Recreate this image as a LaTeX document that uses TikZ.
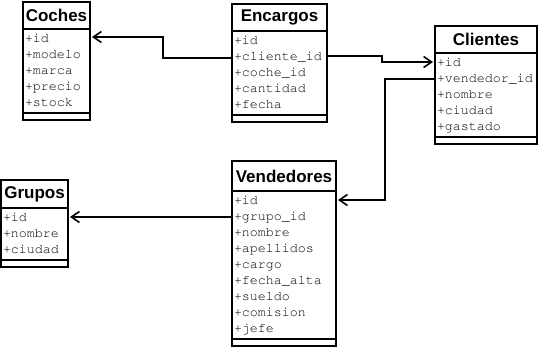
\documentclass[tikz,border=0pt]{standalone}
\usepackage{fontspec}
\setsansfont{Liberation Sans}
\setmonofont{Liberation Mono}
\usetikzlibrary{positioning,arrows.meta}

% Courier para los campos
\newcommand{\camposfont}{\fontencoding{T1}\fontfamily{pcr}\fontsize{13.3}{16}\selectfont}

\tikzset{
  tabla/.style={draw, line width=1.6pt, anchor=north west, minimum height=27pt,
    inner sep=0pt, outer sep=0pt, font=\fontsize{17}{20}\selectfont\sffamily\bfseries},
  campos/.style={draw, line width=1.6pt, inner xsep=2pt, inner ysep=2pt, outer sep=0pt,
    align=left, font=\camposfont,
    execute at begin node=\strut, execute at end node=\strut},
  pie/.style={draw, line width=1.6pt, minimum height=7pt, inner sep=0pt, outer sep=0pt},
  fk/.style={line width=1.6pt, shorten >=2pt, -{Straight Barb[length=8pt,width=11pt]}}
}

\begin{document}
\begin{tikzpicture}[x=1pt, y=-1pt]
  \useasboundingbox (0,0) rectangle (538,348);

  % Coches
  \node[tabla, minimum width=67pt] (coches) at (23,2) {Coches};
  \node[campos, text width=63pt, below=0pt of coches] (cochesA)
    {+id\\+modelo\\+marca\\+precio\\+stock};
  \node[pie, minimum width=67pt, below=0pt of cochesA] (cochesP) {};

  % Encargos
  \node[tabla, minimum width=95pt] (enc) at (232,4) {Encargos};
  \node[campos, text width=91pt, below=0pt of enc] (encA)
    {+id\\+cliente\_id\\+coche\_id\\+cantidad\\+fecha};
  \node[pie, minimum width=95pt, below=0pt of encA] (encP) {};

  % Clientes
  \node[tabla, minimum width=102pt] (cli) at (435,26) {Clientes};
  \node[campos, text width=98pt, below=0pt of cli] (cliA)
    {+id\\+vendedor\_id\\+nombre\\+ciudad\\+gastado};
  \node[pie, minimum width=102pt, below=0pt of cliA] (cliP) {};

  % Grupos
  \node[tabla, minimum width=67pt, minimum height=28pt] (grp) at (1,180) {Grupos};
  \node[campos, text width=63pt, below=0pt of grp] (grpA)
    {+id\\+nombre\\+ciudad};
  \node[pie, minimum width=67pt, below=0pt of grpA] (grpP) {};

  % Vendedores
  \node[tabla, minimum width=104pt, minimum height=30pt] (ven) at (232,161) {Vendedores};
  \node[campos, text width=100pt, below=0pt of ven] (venA)
    {+id\\+grupo\_id\\+nombre\\+apellidos\\+cargo\\+fecha\_alta\\+sueldo\\+comision\\+jefe};
  \node[pie, minimum width=104pt, below=0pt of venA] (venP) {};

  % claves ajenas
  \draw[fk] ([yshift=-27pt]encA.north west) -- ++(-69,0) |- ([yshift=-8pt]cochesA.north east);
  \draw[fk] ([yshift=-25pt]encA.north east) -- ++(55,0) |- ([yshift=-9pt]cliA.north west);
  \draw[fk] ([yshift=-26pt]cliA.north west) -- ++(-50,0) |- ([yshift=-9pt]venA.north east);
  \draw[fk] ([yshift=-26pt]venA.north west) -- ([yshift=-26pt]venA.north west -| grpA.east);
\end{tikzpicture}
\end{document}
